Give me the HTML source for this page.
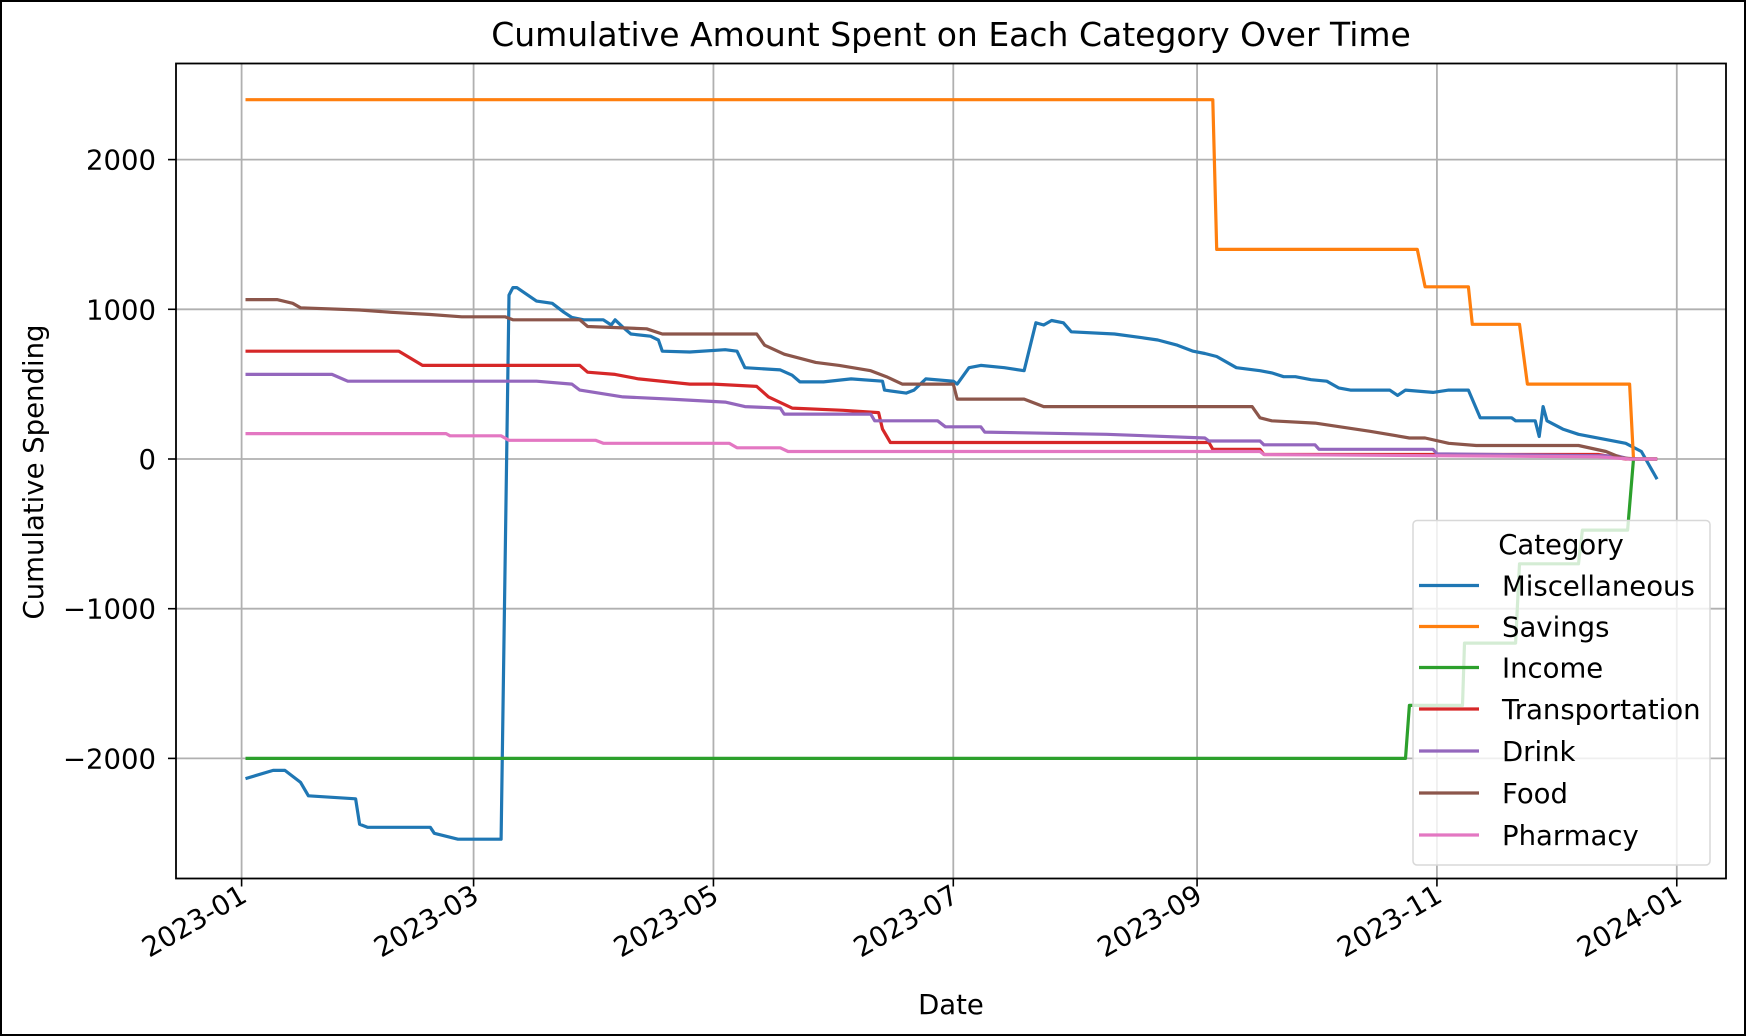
<!DOCTYPE html>
<html><head><meta charset="utf-8">
<style>
html,body{margin:0;padding:0;background:#fff;}
#wrap{position:relative;width:1746px;height:1036px;overflow:hidden;}
svg{position:absolute;left:0;top:0;font-family:"DejaVu Sans","Liberation Sans",sans-serif;}
</style></head>
<body>
<div id="wrap">
<svg id="chart" width="1746" height="1036" viewBox="0 0 1746 1036">
  <rect x="0" y="0" width="1746" height="1036" fill="#fff" stroke="#000" stroke-width="4"/>
  <text x="951" y="46" text-anchor="middle" font-size="33" fill="#000">Cumulative Amount Spent on Each Category Over Time</text>
  <g id="grid"></g>
  <g id="series"></g>
  <rect x="176" y="63.5" width="1550" height="815" fill="none" stroke="#000" stroke-width="1.8"/>
  <g id="axes"></g>
  <text x="951" y="1014" text-anchor="middle" font-size="27.5" fill="#000">Date</text>
  <text transform="translate(43,472) rotate(-90)" text-anchor="middle" font-size="27.5" fill="#000">Cumulative Spending</text>
  <g id="legend"></g>
</svg>
</div>
<script>
// ---- data (day offsets from 2023-01-01, cumulative values) ----
const categories = ["Miscellaneous","Savings","Income","Transportation","Drink","Food","Pharmacy"];
const colors = ["#1f77b4","#ff7f0e","#2ca02c","#d62728","#9467bd","#8c564b","#e377c2"];
const miscDays = [1,8,11,15,17,23,29,30,32,48,49,55,66,68,69,70,75,79,82,84,87,92,94,95,97,99,104,106,107,114,123,126,128,137,140,142,148,155,163,163.5,169,171,174,181,182,185,188,194,199,202,204,206,209,211,222,229,233,238,242,245,248,253,259,262,265,268,272,276,279,282,292,294,296,303,307,312,315,323,324,329,330,331,332,336,340,352,356,360];
const miscVals = [-2135,-2080,-2080,-2160,-2250,-2260,-2270,-2440,-2460,-2460,-2500,-2540,-2540,1095,1145,1145,1055,1040,980,945,930,930,895,930,880,835,820,795,720,715,730,720,610,595,560,515,515,535,520,460,440,460,535,520,500,610,625,610,590,910,895,925,910,850,835,810,795,760,720,705,685,610,590,575,550,550,530,520,475,460,460,425,460,445,460,460,275,275,255,255,150,350,255,200,165,105,50,-135];
const savDays = [1,247,248,299,301,312,313,325,327,353,354,360];
const savVals = [2400,2400,1400,1400,1150,1150,900,900,500,500,0,0];
const incDays = [1,296,297,310.5,311,324,325,340,341,352.5,354,360];
const incVals = [-2000,-2000,-1646,-1646,-1230,-1230,-700,-700,-475,-475,0,0];
const trnDays = [1,40,46,86,88,95,101,114,120,131,134,140,153,162,163,165,246,247,259,260,345,352,360];
const trnVals = [720,720,625,625,580,565,535,500,500,485,415,340,325,310,200,110,110,65,65,30,30,0,0];
const drkDays = [1,23,27,75,84,86,97,109,123,128,137,138,160,161,177,179,188,189,220,245,246,259,260,273,274,303,304,350,353,360];
const drkVals = [565,565,520,520,500,460,415,400,380,350,340,300,300,255,255,215,215,180,165,140,120,120,95,95,65,65,35,20,0,0];
const fodDays = [1,9,13,15,30,38,48,56,67,69,86,88,103,107,131,133,138,146,152,160,164,168,181,182,199,204,257,259,262,273,287,297,301,307,314,340,347,351,355,360];
const fodVals = [1065,1065,1040,1010,995,980,965,950,950,930,930,885,870,835,835,760,700,645,625,590,550,500,500,400,400,350,350,275,255,240,185,140,140,105,90,90,50,7,0,0];
const phmDays = [1,52,53,66,68,90,92,124,126,137,139,259,260,345,353,360];
const phmVals = [170,170,155,155,125,125,105,105,75,75,50,50,30,15,0,0];
const seriesDays = [miscDays,savDays,incDays,trnDays,drkDays,fodDays,phmDays];
const seriesVals = [miscVals,savVals,incVals,trnVals,drkVals,fodVals,phmVals];
const yTicks = [-2000,-1000,0,1000,2000];
const yTickLabels = ["\u22122000","\u22121000","0","1000","2000"];
const xTickDays = [0,59,120,181,243,304,365];
const xTickLabels = ["2023-01","2023-03","2023-05","2023-07","2023-09","2023-11","2024-01"];

// ---- axes functions ----
const NS = "http://www.w3.org/2000/svg";
const PL=176, PR=1726, PT=63.5, PB=878.5;
function xs(d){ return 241.6 + d*3.932; }
function ys(v){ return 459 - v*0.1497; }
function mk(tag, attrs, parent){ const e=document.createElementNS(NS,tag); for(const k in attrs) e.setAttribute(k,attrs[k]); parent.appendChild(e); return e; }

const grid=document.getElementById('grid'), axes=document.getElementById('axes'), ser=document.getElementById('series'), leg=document.getElementById('legend');
yTicks.forEach((v,i)=>{
  const y=ys(v);
  const g=mk('line',{x1:PL,x2:PR,y1:y,y2:y,stroke:'#b0b0b0','stroke-width':1.8},grid);
  
  
  const t=mk('line',{x1:PL-8,x2:PL,y1:y,y2:y,stroke:'#000','stroke-width':1.6},axes);
  
  
  const l=mk('text',{x:PL-20,y:y+10,'text-anchor':'end','font-size':27.5,fill:'#000'},axes);
  l.textContent=yTickLabels[i];
  
  
});
xTickDays.forEach((d,i)=>{
  const x=xs(d);
  const g=mk('line',{x1:x,x2:x,y1:PT,y2:PB,stroke:'#b0b0b0','stroke-width':1.8},grid);
  
  
  const t=mk('line',{x1:x,x2:x,y1:PB,y2:PB+8,stroke:'#000','stroke-width':1.6},axes);
  
  
  const l=mk('text',{transform:`translate(${x+7},${PB+22}) rotate(-30)`,'text-anchor':'end','font-size':27.5,fill:'#000'},axes);
  l.textContent=xTickLabels[i];
  
  
});
categories.forEach((c,i)=>{
  const pts=seriesDays[i].map((d,j)=>xs(d).toFixed(1)+','+ys(seriesVals[i][j]).toFixed(1)).join(' ');
  const p=mk('polyline',{points:pts,fill:'none',stroke:colors[i],'stroke-width':3.2,'stroke-linejoin':'round'},ser);
  
  
});
// legend
const box=mk('rect',{x:1413,y:520.5,width:297,height:344.5,rx:4,fill:'#fff','fill-opacity':0.8,stroke:'#d8d8d8','stroke-width':1.5},leg);


const lt=mk('text',{x:1561,y:554,'text-anchor':'middle','font-size':27.5,fill:'#000'},leg);
lt.textContent='Category';


const entryY=[585.5,626.5,667.5,709,751,793,835];
categories.forEach((c,i)=>{
  const g=mk('g',{},leg);
  
  
  mk('line',{x1:1419,x2:1479,y1:entryY[i],y2:entryY[i],stroke:colors[i],'stroke-width':3.2},g);
  const t=mk('text',{x:1502,y:entryY[i]+10,'font-size':27.5,fill:'#000'},g);
  t.textContent=c;
});
</script>
</body></html>
